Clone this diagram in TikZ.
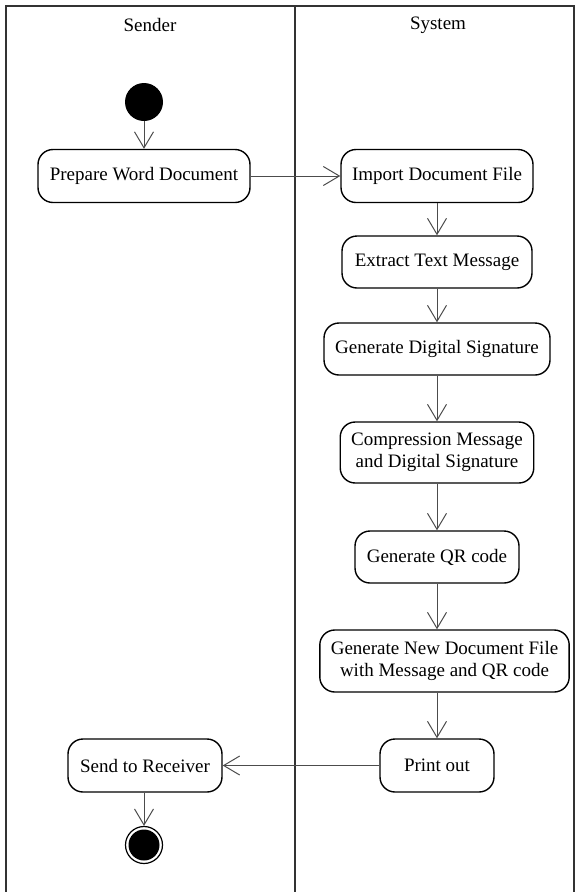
\documentclass[tikz,border=0pt]{standalone}
\usepackage{fontspec}
\setmainfont{Liberation Serif}
\usetikzlibrary{arrows.meta}
\begin{document}
\begin{tikzpicture}[x=1pt,y=-1pt,
  act/.style={draw=black, line width=1.4pt, rounded corners=15pt, align=center,
    inner xsep=11pt, inner ysep=11pt, minimum height=53pt,
    font=\fontsize{19}{22}\selectfont},
  flow/.style={draw=black!70, line width=1pt,
    -{Straight Barb[length=16pt,width=19pt,line width=1pt]}},
  lane/.style={draw=black!80, line width=2pt},
  title/.style={font=\fontsize{19}{22}\selectfont}]
\useasboundingbox (0,0) rectangle (575,892);

% swimlane frame
\draw[lane] (6,892) -- (6,6) -- (574,6) -- (574,892);
\draw[lane] (295,6) -- (295,892);

% lane titles
\node[title] (sender) at (150,25) {Sender};
\node[title] (system) at (438,25) {System};

% start and end nodes
\node[circle, fill=black, minimum size=38pt, inner sep=0pt] (start) at (144,102) {};
\node[circle, draw=black, line width=1.2pt, minimum size=37pt, inner sep=0pt] (end) at (144,845) {};
\node[circle, fill=black, minimum size=31pt, inner sep=0pt] (enddot) at (end) {};

% activities
\node[act, minimum width=212pt] (prep) at (144,176) {Prepare Word Document};
\node[act, minimum width=192pt] (import) at (437,176) {Import Document File};
\node[act, minimum width=190pt, minimum height=52pt] (extract) at (437,262) {Extract Text Message};
\node[act, minimum width=226pt, minimum height=52pt] (gds) at (437,349) {Generate Digital Signature};
\node[act, minimum width=192pt, minimum height=61pt] (comp) at (437,452.5) {Compression Message\\and Digital Signature};
\node[act, minimum width=164pt, minimum height=52pt] (qr) at (437,557) {Generate QR code};
\node[act, minimum width=247pt, minimum height=62pt] (gnew) at (444.5,661) {Generate New Document File\\with Message and QR code};
\node[act, minimum width=114pt] (print) at (437,765.5) {Print out};
\node[act, minimum width=154pt] (send) at (145,765.5) {Send to Receiver};

% control flow
\draw[flow] (start) -- (prep);
\draw[flow] (prep) -- (import);
\draw[flow] (import) -- (extract);
\draw[flow] (extract) -- (gds);
\draw[flow] (gds) -- (comp);
\draw[flow] (comp) -- (qr);
\draw[flow] (qr.south) -- (gnew.north -| qr.south);
\draw[flow] (gnew.south -| print.north) -- (print);
\draw[flow] (print) -- (send);
\draw[flow] (send.south -| end.north) -- (end);
\end{tikzpicture}
\end{document}
